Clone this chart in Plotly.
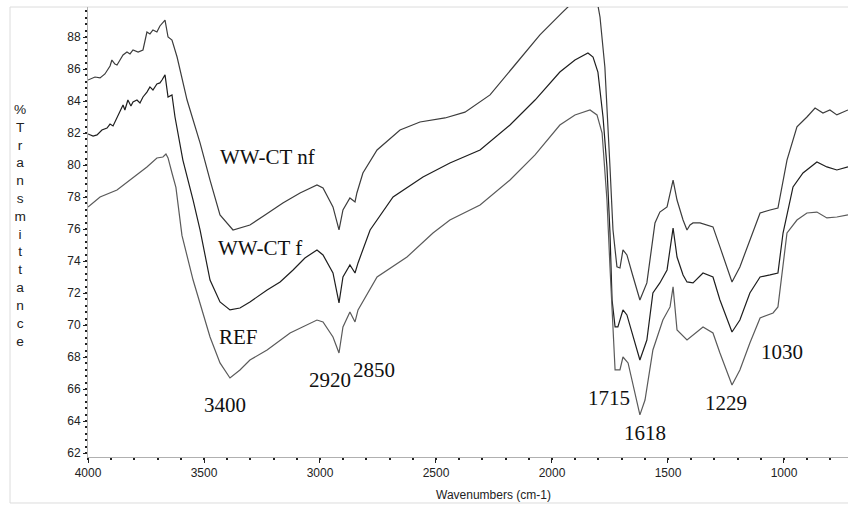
import plotly.graph_objects as go

# ---- data ----
wn_nf = [4000, 3970, 3948, 3927, 3905, 3897, 3884, 3875, 3862, 3849, 3832, 3819, 3806, 3784, 3763, 3746,
         3733, 3720, 3703, 3690, 3668, 3655, 3638, 3616, 3573, 3517, 3474, 3431, 3375, 3302, 3237, 3160,
         3086, 3043, 3013, 2987, 2944, 2918, 2901, 2871, 2849, 2841, 2815, 2754, 2655, 2569, 2461, 2375,
         2267, 2160, 2052, 1966, 1901, 1836, 1806, 1793, 1772, 1750, 1737, 1720, 1707, 1694, 1677, 1655,
         1621, 1591, 1556, 1535, 1504, 1478, 1461, 1435, 1418, 1405, 1392, 1362, 1306, 1276, 1224, 1190,
         1147, 1103, 1060, 1026, 987, 944, 901, 866, 832, 802, 772, 724]
t_nf = [85.31, 85.5, 85.44, 85.69, 86.19, 86.56, 86.31, 86.25, 86.56, 86.88, 87.06, 86.94, 87.19, 87.06, 87.19, 88.31,
        88.19, 88.44, 88.31, 88.69, 89.06, 88.0, 87.81, 86.75, 84.06, 81.38, 79.06, 76.88, 75.94, 76.25, 76.88, 77.63,
        78.25, 78.56, 78.75, 78.56, 77.38, 75.94, 77.19, 77.94, 77.69, 78.25, 79.5, 80.94, 82.19, 82.69, 82.94, 83.3,
        84.38, 86.25, 88.13, 89.38, 90.31, 90.8, 90.3, 89.25, 86.13, 79.88, 75.94, 73.63, 73.56, 74.69, 74.38, 73.25,
        71.56, 72.63, 76.38, 77.06, 77.38, 79.06, 77.81, 76.56, 75.94, 76.25, 76.38, 76.38, 76.13, 74.88, 72.69, 73.63,
        75.31, 77.0, 77.19, 77.31, 80.31, 82.38, 83.0, 83.56, 83.25, 83.44, 83.13, 83.44]

wn_f = [4000, 3978, 3961, 3940, 3918, 3905, 3892, 3875, 3862, 3849, 3841, 3828, 3815, 3806, 3789, 3776,
        3763, 3746, 3733, 3720, 3703, 3690, 3681, 3668, 3655, 3638, 3625, 3591, 3547, 3517, 3474, 3431,
        3388, 3345, 3302, 3228, 3172, 3116, 3065, 3013, 2987, 2944, 2918, 2901, 2871, 2849, 2836, 2784,
        2685, 2556, 2440, 2310, 2181, 2073, 1966, 1901, 1845, 1823, 1802, 1780, 1763, 1750, 1741, 1728,
        1716, 1694, 1677, 1655, 1621, 1591, 1565, 1535, 1504, 1478, 1461, 1435, 1418, 1392, 1349, 1306,
        1276, 1224, 1190, 1147, 1103, 1060, 1026, 1004, 961, 918, 858, 815, 772, 724]
t_f = [81.94, 81.81, 81.88, 82.19, 82.31, 82.56, 82.44, 82.94, 83.31, 83.75, 83.44, 84.06, 83.69, 83.94, 84.06, 83.88,
       84.25, 84.56, 84.88, 84.69, 85.06, 85.13, 85.31, 85.63, 84.25, 84.38, 83.0, 80.31, 77.81, 75.94, 72.81, 71.44,
       70.94, 71.06, 71.44, 72.19, 72.69, 73.44, 74.19, 74.69, 74.38, 73.25, 71.38, 73.0, 73.75, 73.25, 73.88, 75.94,
       78.0, 79.25, 80.13, 80.94, 82.5, 84.06, 85.81, 86.56, 87.0, 86.75, 85.81, 83.0, 79.88, 75.75, 71.56, 69.88,
       69.88, 70.94, 70.63, 69.5, 67.81, 69.06, 72.0, 72.63, 73.44, 76.06, 74.25, 73.13, 72.69, 72.63, 73.25, 73.0,
       71.56, 69.56, 70.31, 72.0, 73.0, 73.13, 73.25, 75.75, 78.63, 79.5, 80.19, 79.88, 79.69, 79.88]

wn_ref = [4000, 3948, 3875, 3806, 3746, 3703, 3677, 3664, 3655, 3638, 3621, 3595, 3547, 3474, 3431, 3388,
          3345, 3302, 3228, 3129, 3013, 2987, 2944, 2918, 2901, 2871, 2849, 2836, 2754, 2625, 2513, 2440,
          2310, 2181, 2073, 1966, 1901, 1836, 1806, 1784, 1763, 1750, 1737, 1728, 1707, 1694, 1672, 1634,
          1621, 1599, 1565, 1522, 1491, 1478, 1461, 1418, 1392, 1349, 1306, 1276, 1224, 1190, 1147, 1103,
          1047, 1026, 987, 944, 901, 858, 815, 772, 724]
t_ref = [77.38, 78.0, 78.44, 79.19, 79.88, 80.44, 80.5, 80.69, 80.44, 79.5, 78.6, 75.6, 72.81, 69.25, 67.63, 66.69,
         67.19, 67.81, 68.44, 69.5, 70.31, 70.19, 69.25, 68.25, 69.88, 70.81, 70.19, 70.94, 73.0, 74.25, 75.75, 76.56,
         77.5, 79.06, 80.63, 82.5, 83.13, 83.44, 83.13, 82.0, 77.81, 73.63, 69.5, 67.19, 67.19, 68.0, 67.63, 65.31,
         64.38, 65.31, 68.44, 70.31, 71.13, 72.38, 69.69, 69.06, 69.38, 69.88, 69.5, 68.25, 66.25, 67.19, 68.88, 70.44,
         70.75, 71.13, 75.75, 76.56, 77.0, 77.06, 76.69, 76.75, 76.88]

series_names = ["WW-CT nf", "WW-CT f", "REF"]
series_colors = ["#3c3c3c", "#1e1e1e", "#5a5a5a"]

# text labels: (text, wavenumber, %T)
label_text = ["WW-CT nf", "WW-CT f", "REF", "3400", "2920", "2850", "1715", "1618", "1229", "1030"]
label_x = [3228, 3259, 3353, 3410, 2957, 2767, 1754, 1599, 1250, 1009]
label_y = [80.5, 74.8, 69.25, 65.0, 66.56, 67.2, 65.44, 63.25, 65.1, 68.3]

x_ticks = [4000, 3500, 3000, 2500, 2000, 1500, 1000]
y_ticks = list(range(62, 92, 2))

fig = go.Figure()
for wn, t, name, col in zip([wn_nf, wn_f, wn_ref], [t_nf, t_f, t_ref], series_names, series_colors):
    fig.add_trace(go.Scatter(x=wn, y=t, mode="lines", name=name,
                             line=dict(color=col, width=1.2), showlegend=False))

for txt, lx, ly in zip(label_text, label_x, label_y):
    fig.add_annotation(x=lx, y=ly, xref="x", yref="y", text=txt, showarrow=False,
                       xanchor="center", yanchor="middle",
                       font=dict(family="Liberation Serif, Times New Roman, serif", size=21, color="#111"))

# stacked y-axis title
fig.add_annotation(x=-0.0895, y=0.514, xref="paper", yref="paper",
                   text="<br>".join(list("%Transmittance")), showarrow=False,
                   xanchor="center", yanchor="middle", align="center",
                   font=dict(family="Liberation Sans, Arial, sans-serif", size=13.7, color="#222"))
# x-axis title
fig.add_annotation(x=0.534, y=-0.0844, xref="paper", yref="paper",
                   text="Wavenumbers (cm-1)", showarrow=False,
                   xanchor="center", yanchor="middle",
                   font=dict(family="Liberation Sans, Arial, sans-serif", size=12, color="#222"))

# light outer frame
fig.add_shape(type="rect", xref="paper", yref="paper", x0=-0.1026, x1=1.05, y0=-0.1022, y1=1.0,
              line=dict(color="#dcdcdc", width=1), fillcolor="rgba(0,0,0,0)", layer="below")

fig.update_layout(
    width=848, height=507,
    margin=dict(l=88, r=0, t=7, b=50),
    paper_bgcolor="white", plot_bgcolor="white",
    font=dict(family="Liberation Sans, Arial, sans-serif", size=12, color="#222"),
)
fig.update_xaxes(range=[4000, 724], tickvals=x_ticks, ticks="outside", ticklen=5, tickcolor="#222",
                 showgrid=False, zeroline=False, showline=True, linecolor="#b0b0b0", linewidth=1,
                 minor=dict(dtick=100, ticks="outside", ticklen=2, tickwidth=2, tickcolor="#222", showgrid=False),
                 tickfont=dict(size=12))
fig.update_yaxes(range=[61.75, 89.875], tickvals=y_ticks, ticks="outside", ticklen=4, tickcolor="#222",
                 showgrid=False, zeroline=False, showline=True, linecolor="#b0b0b0", linewidth=1,
                 minor=dict(dtick=0.4, ticks="outside", ticklen=2, tickwidth=2, tickcolor="#222", showgrid=False),
                 tickfont=dict(size=12))

fig.write_html("out.html", config={"displayModeBar": False},
               post_script="document.body.style.margin='0';document.body.style.padding='0';")
